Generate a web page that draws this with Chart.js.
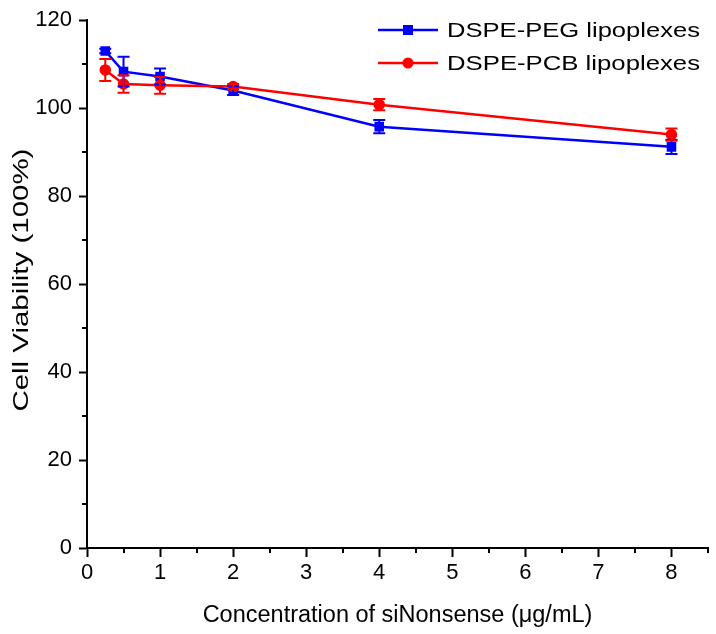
<!DOCTYPE html>
<html>
<head>
<meta charset="utf-8">
<script src="https://cdn.jsdelivr.net/npm/chart.js@4/dist/chart.umd.min.js"></script>
<style>
  html, body { margin: 0; padding: 0; background: #fff; }
  #wrap { width: 716px; height: 634px; }
</style>
</head>
<body>
<div id="wrap"><canvas id="myChart" width="716" height="634"></canvas></div>
<script>
// concentration of siNonsense (ug/mL)
var doses = [0.25, 0.5, 1, 2, 4, 8];

var seriesNames = ['DSPE-PEG lipoplexes', 'DSPE-PCB lipoplexes'];

// cell viability (%) with error bars
var pegViability = [113, 108.3, 107.2, 104, 95.8, 91.2];
var pegError = [0.5, 3.4, 1.8, 1, 1.5, 1.6];
var pcbViability = [108.7, 105.5, 105.2, 104.9, 100.8, 94];
var pcbError = [2.5, 2, 1.9, 0.6, 1.3, 1.4];

var xTicks = [0, 1, 2, 3, 4, 5, 6, 7, 8];
var yTicks = [0, 20, 40, 60, 80, 100, 120];

var xTitle = 'Concentration of siNonsense (μg/mL)';
var yTitle = 'Cell Viability (100%)';

var FONT = "'Liberation Sans', Arial, sans-serif";

function toPoints(xs, ys) {
  var pts = [];
  for (var i = 0; i < xs.length; i++) pts.push({ x: xs[i], y: ys[i] });
  return pts;
}

// the source figure has text that is stretched along its length
function stretchedText(ctx, text, x, y, size, length, angle) {
  ctx.save();
  ctx.font = size + 'px ' + FONT;
  var w = ctx.measureText(text).width;
  ctx.translate(x, y);
  ctx.rotate(angle);
  ctx.scale(length / w, 1);
  ctx.fillText(text, 0, 0);
  ctx.restore();
}

var errors = [pegError, pcbError];

var errorBars = {
  id: 'errorBars',
  afterDatasetsDraw: function (chart) {
    var ctx = chart.ctx;
    var xs = chart.scales.x, ys = chart.scales.y;
    chart.data.datasets.forEach(function (ds, di) {
      ctx.save();
      ctx.strokeStyle = ds.borderColor;
      ctx.lineWidth = 2;
      ds.data.forEach(function (p, i) {
        var e = errors[di][i];
        var px = xs.getPixelForValue(p.x);
        var top = ys.getPixelForValue(p.y + e);
        var bot = ys.getPixelForValue(p.y - e);
        ctx.beginPath();
        ctx.moveTo(px, top); ctx.lineTo(px, bot);
        ctx.moveTo(px - 6, top); ctx.lineTo(px + 6, top);
        ctx.moveTo(px - 6, bot); ctx.lineTo(px + 6, bot);
        ctx.stroke();
      });
      ctx.restore();
    });
  }
};

// short minor ticks halfway between the labelled ones
var minorTicks = {
  id: 'minorTicks',
  afterDraw: function (chart) {
    var ctx = chart.ctx;
    var xs = chart.scales.x, ys = chart.scales.y;
    var area = chart.chartArea;
    ctx.save();
    ctx.strokeStyle = '#000';
    ctx.lineWidth = 2;
    ctx.beginPath();
    for (var v = 0.5; v <= 8.5; v += 1) {
      var px = Math.round(xs.getPixelForValue(v));
      ctx.moveTo(px, area.bottom); ctx.lineTo(px, area.bottom + 5);
    }
    for (var w = 10; w < 120; w += 20) {
      var py = Math.round(ys.getPixelForValue(w));
      ctx.moveTo(area.left, py); ctx.lineTo(area.left - 5, py);
    }
    ctx.stroke();
    ctx.restore();
  }
};

var titles = {
  id: 'titles',
  afterDraw: function (chart) {
    var ctx = chart.ctx;
    var area = chart.chartArea;
    ctx.save();
    ctx.fillStyle = '#000';
    ctx.textAlign = 'center';
    ctx.textBaseline = 'middle';
    stretchedText(ctx, yTitle, 22, (area.top + area.bottom) / 2 - 4, 22, 263, -Math.PI / 2);
    ctx.restore();
  }
};

var legendBox = {
  id: 'legendBox',
  afterDraw: function (chart) {
    var ctx = chart.ctx;
    ctx.save();
    chart.data.datasets.forEach(function (ds, i) {
      var y = 30 + i * 33;
      ctx.strokeStyle = ds.borderColor;
      ctx.fillStyle = ds.borderColor;
      ctx.lineWidth = 2.5;
      ctx.beginPath();
      ctx.moveTo(378, y); ctx.lineTo(438, y);
      ctx.stroke();
      if (ds.pointStyle === 'rect') {
        ctx.fillRect(408 - 5, y - 5, 10, 10);
      } else {
        ctx.beginPath();
        ctx.arc(408, y, 5.5, 0, Math.PI * 2);
        ctx.fill();
      }
      ctx.fillStyle = '#000';
      ctx.textBaseline = 'middle';
      ctx.textAlign = 'left';
      stretchedText(ctx, ds.label, 447, y + 1, 21, 253, 0);
    });
    ctx.restore();
  }
};

var ctx = document.getElementById('myChart').getContext('2d');
var chart = new Chart(ctx, {
  type: 'scatter',
  data: {
    datasets: [{
      label: seriesNames[0],
      data: toPoints(doses, pegViability),
      borderColor: '#0000ff',
      backgroundColor: '#0000ff',
      pointStyle: 'rect',
      pointRadius: 5,
      borderWidth: 2.5,
      showLine: true,
      order: 1
    }, {
      label: seriesNames[1],
      data: toPoints(doses, pcbViability),
      borderColor: '#ff0000',
      backgroundColor: '#ff0000',
      pointStyle: 'circle',
      pointRadius: 4.5,
      borderWidth: 2.5,
      showLine: true,
      order: 0
    }]
  },
  options: {
    responsive: false,
    animation: false,
    layout: { padding: { left: 0, right: 8, top: 18, bottom: 0 } },
    plugins: {
      legend: { display: false },
      tooltip: { enabled: false }
    },
    scales: {
      x: {
        type: 'linear',
        min: 0,
        max: 8.5,
        afterFit: function (scale) { scale.height = 86; },
        afterBuildTicks: function (scale) {
          scale.ticks = xTicks.map(function (v) { return { value: v }; });
        },
        ticks: {
          color: '#000',
          padding: 3,
          maxRotation: 0,
          autoSkip: false,
          font: { family: FONT, size: 22 }
        },
        grid: { drawOnChartArea: false, tickLength: 9, tickWidth: 2, tickColor: '#000' },
        border: { color: '#000', width: 2 },
        title: {
          display: true,
          text: xTitle,
          color: '#000',
          font: { family: FONT, size: 23.5 },
          padding: { top: 6 }
        }
      },
      y: {
        min: 0,
        max: 120,
        afterFit: function (scale) { scale.width = 87; },
        afterBuildTicks: function (scale) {
          scale.ticks = yTicks.map(function (v) { return { value: v }; });
        },
        ticks: {
          color: '#000',
          padding: 7,
          font: { family: FONT, size: 22 }
        },
        grid: { drawOnChartArea: false, tickLength: 8, tickWidth: 2, tickColor: '#000' },
        border: { color: '#000', width: 2 }
      }
    }
  },
  plugins: [errorBars, minorTicks, titles, legendBox]
});
</script>
</body>
</html>
